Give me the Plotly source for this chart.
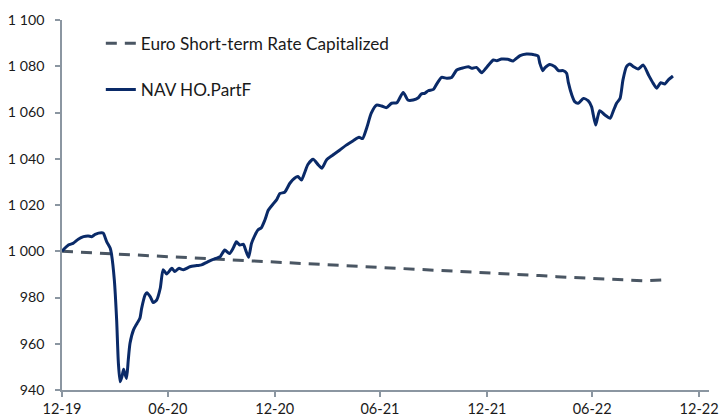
import plotly.graph_objects as go

# ---- data ----
nav_dates = [
    "2019-12-31", "2020-01-11", "2020-01-19", "2020-01-28", "2020-02-06", "2020-02-14",
    "2020-02-20", "2020-02-26", "2020-03-08", "2020-03-11", "2020-03-17", "2020-03-23",
    "2020-03-25", "2020-03-30", "2020-04-03", "2020-04-06", "2020-04-09", "2020-04-12",
    "2020-04-15", "2020-04-17", "2020-04-20", "2020-04-23", "2020-04-26", "2020-05-02",
    "2020-05-08", "2020-05-13", "2020-05-16", "2020-05-22", "2020-05-25", "2020-05-31",
    "2020-06-05", "2020-06-11", "2020-06-17", "2020-06-22", "2020-06-28", "2020-07-07",
    "2020-07-12", "2020-07-19", "2020-07-27", "2020-08-07", "2020-08-19", "2020-08-27",
    "2020-09-05", "2020-09-13", "2020-09-22", "2020-09-28", "2020-10-06", "2020-10-14",
    "2020-10-21", "2020-10-26", "2020-11-01", "2020-11-07", "2020-11-11", "2020-11-16",
    "2020-11-21", "2020-11-27", "2020-12-02", "2020-12-08", "2020-12-14", "2020-12-20",
    "2020-12-29", "2021-01-03", "2021-01-09", "2021-01-17", "2021-01-26", "2021-02-03",
    "2021-02-09", "2021-02-15", "2021-02-21", "2021-02-26", "2021-03-07", "2021-03-16",
    "2021-03-22", "2021-03-30", "2021-04-10", "2021-04-22", "2021-05-03", "2021-05-15",
    "2021-05-25", "2021-05-31", "2021-06-07", "2021-06-15", "2021-06-24", "2021-07-03",
    "2021-07-11", "2021-07-20", "2021-07-29", "2021-08-09", "2021-08-17", "2021-08-26",
    "2021-09-04", "2021-09-09", "2021-09-15", "2021-09-21", "2021-09-30", "2021-10-06",
    "2021-10-14", "2021-10-23", "2021-10-31", "2021-11-09", "2021-11-17", "2021-11-29",
    "2021-12-05", "2021-12-13", "2021-12-22", "2021-12-30", "2022-01-11", "2022-01-17",
    "2022-01-25", "2022-02-05", "2022-02-14", "2022-02-26", "2022-03-09", "2022-03-18",
    "2022-03-23", "2022-03-29", "2022-04-01", "2022-04-06", "2022-04-10", "2022-04-18",
    "2022-04-27", "2022-05-03", "2022-05-11", "2022-05-17", "2022-05-20", "2022-05-26",
    "2022-05-31", "2022-06-06", "2022-06-15", "2022-06-23", "2022-06-29", "2022-07-02",
    "2022-07-06", "2022-07-09", "2022-07-13", "2022-07-22", "2022-07-31", "2022-08-05",
    "2022-08-11", "2022-08-17", "2022-08-22", "2022-08-28", "2022-09-03", "2022-09-09",
    "2022-09-17", "2022-09-26", "2022-10-05", "2022-10-13", "2022-10-19", "2022-10-26",
    "2022-11-02", "2022-11-08", "2022-11-16",
]
nav_values = [
    1000.0, 1002.7, 1003.4, 1005.2, 1006.3, 1006.6,
    1006.3, 1007.3, 1008.0, 1007.8, 1004.1, 1001.3,
    999.0, 987.6, 970.3, 951.6, 943.6, 945.7,
    949.0, 947.2, 945.0, 953.0, 960.2, 966.0,
    968.8, 971.0, 975.3, 981.1, 982.1, 980.3,
    977.8, 979.0, 984.0, 992.0, 990.2, 992.6,
    991.2, 992.6, 992.0, 993.3, 993.8, 994.1,
    995.2, 996.2, 997.0, 997.6, 1000.5, 999.0,
    1001.6, 1004.1, 1002.7, 1003.0, 1000.5, 997.4,
    1003.4, 1007.0, 1009.2, 1010.2, 1013.5, 1017.8,
    1020.7, 1022.2, 1025.0, 1025.5, 1029.4, 1031.6,
    1032.3, 1030.8, 1034.4, 1037.5, 1039.8, 1037.3,
    1035.9, 1039.5, 1041.6, 1043.8, 1045.9, 1047.8,
    1049.3, 1048.7, 1053.2, 1059.7, 1063.2, 1062.8,
    1062.1, 1064.0, 1064.2, 1068.7, 1065.4, 1065.4,
    1066.4, 1068.0, 1068.3, 1069.4, 1070.0, 1072.5,
    1075.2, 1074.8, 1075.1, 1078.4, 1079.1, 1079.8,
    1079.1, 1079.5, 1077.2, 1079.4, 1082.7, 1082.4,
    1083.1, 1083.0, 1082.3, 1084.6, 1085.3, 1085.2,
    1084.9, 1084.4, 1081.3, 1078.1, 1079.4, 1080.8,
    1079.8, 1078.1, 1078.1, 1077.0, 1073.0, 1067.6,
    1064.7, 1064.0, 1066.1, 1065.1, 1062.5, 1058.9,
    1054.6, 1057.5, 1060.8, 1058.9, 1057.5, 1060.4,
    1064.0, 1066.1, 1074.1, 1079.8, 1081.0, 1079.8,
    1078.8, 1080.5, 1076.2, 1072.6, 1070.5, 1072.9,
    1072.3, 1074.1, 1075.8,
]

estr_dates = [
    "2019-12-31", "2020-01-31", "2020-02-29", "2020-03-31", "2020-04-30", "2020-05-31",
    "2020-06-30", "2020-07-31", "2020-08-31", "2020-09-30", "2020-10-31", "2020-11-30",
    "2020-12-31", "2021-01-31", "2021-02-28", "2021-03-31", "2021-04-30", "2021-05-31",
    "2021-06-30", "2021-07-31", "2021-08-31", "2021-09-30", "2021-10-31", "2021-11-30",
    "2021-12-31", "2022-01-31", "2022-02-28", "2022-03-31", "2022-04-30", "2022-05-31",
    "2022-06-30", "2022-07-31", "2022-08-31", "2022-09-30", "2022-10-28",
]
estr_values = [
    1000.0, 999.6, 999.2, 998.9, 998.5, 998.1,
    997.7, 997.3, 997.0, 996.6, 996.2, 995.8,
    995.5, 995.1, 994.7, 994.3, 993.9, 993.5,
    993.1, 992.8, 992.4, 992.0, 991.6, 991.3,
    990.9, 990.4, 990.0, 989.5, 989.0, 988.6,
    988.1, 987.7, 987.3, 987.2, 987.6,
]

x_tick_dates = ["2019-12-31", "2020-06-30", "2020-12-31", "2021-06-30",
                "2021-12-31", "2022-06-30", "2022-12-31"]
x_tick_labels = ["12-19", "06-20", "12-20", "06-21", "12-21", "06-22", "12-22"]

series_names = ["Euro Short-term Rate Capitalized", "NAV HO.PartF"]

# ---- figure ----
AXIS_COLOR = "#8b96a1"
FONT = "Lato, Carlito, Calibri, sans-serif"

fig = go.Figure()
fig.add_trace(go.Scatter(
    x=estr_dates, y=estr_values, mode="lines", name=series_names[0],
    legendgroup="g1",
    line=dict(color="#4a5663", width=3, dash="11px,8px"),
))
fig.add_trace(go.Scatter(
    x=nav_dates, y=nav_values, mode="lines", name=series_names[1],
    legendgroup="g2",
    line=dict(color="#0a2a68", width=3, shape="spline", smoothing=0.6),
))

fig.update_layout(
    width=719, height=419,
    margin=dict(l=62, r=10, t=20, b=29),
    paper_bgcolor="white", plot_bgcolor="white",
    font=dict(family=FONT, color="#1a1a1a", size=14),
    separators=", ",
    showlegend=True,
    legend=dict(
        x=0.060, y=0.985, xanchor="left", yanchor="top",
        bgcolor="rgba(0,0,0,0)", font=dict(size=17.2, family=FONT, color="#1a1a1a"),
        tracegroupgap=21, traceorder="grouped",
    ),
)
fig.update_xaxes(
    type="date",
    range=["2019-12-31", "2023-01-17"],
    tickvals=x_tick_dates, ticktext=x_tick_labels,
    showline=True, linecolor=AXIS_COLOR, linewidth=1.5,
    ticks="outside", ticklen=5, tickcolor=AXIS_COLOR, tickwidth=1.5,
    showgrid=False, zeroline=False, automargin=False,
    tickfont=dict(size=14.5, family=FONT, color="#1a1a1a"),
)
fig.update_yaxes(
    range=[940, 1100], dtick=20, tick0=940, tickformat=",d",
    showline=True, linecolor=AXIS_COLOR, linewidth=1.5,
    ticks="outside", ticklen=5, tickcolor=AXIS_COLOR, tickwidth=1.5,
    showgrid=False, zeroline=False, automargin=False,
    ticklabelstandoff=8,
    tickfont=dict(size=14.2, family=FONT, color="#1a1a1a"),
)

fig.write_html(
    "out.html",
    config={"displayModeBar": False},
    post_script="document.body.style.margin='0';document.body.style.overflow='hidden';",
)
